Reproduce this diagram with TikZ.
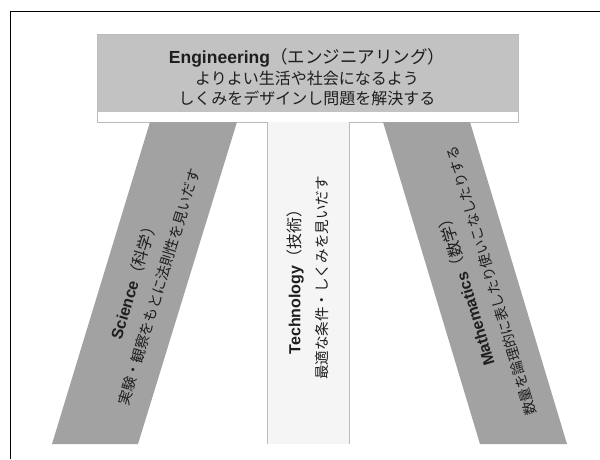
\documentclass[tikz,border=0pt]{standalone}
\usepackage{fontspec}
\setmainfont{Liberation Sans}
\newfontfamily\jp{Noto Sans CJK JP}
\definecolor{boxgray}{HTML}{C2C2C2}
\definecolor{bargray}{HTML}{A2A2A2}
\definecolor{edgegray}{HTML}{BBBBBB}
\definecolor{techfill}{HTML}{F5F5F5}
\definecolor{txt}{HTML}{1E1E1E}
\begin{document}
\begin{tikzpicture}[x=1pt,y=-1pt,
  lbl/.style={align=center,text=txt,inner sep=0pt},
  barfill/.style={fill=bargray},
]
\useasboundingbox (0,0) rectangle (600,459);
% frame
\draw[line width=1pt] (10,459) -- (10,11) -- (600,11);
% top box
\fill[boxgray] (97,34) rectangle (518,112);
\draw[edgegray,line width=0.8pt] (97,34) rectangle (518,122);
% bars
\path[barfill] (150,122) -- (237,122) -- (138,444) -- (52,444) -- cycle;
\path[barfill] (383,122) -- (470,122) -- (567,444) -- (480,444) -- cycle;
\fill[techfill] (267,122) rectangle (349,444);
\draw[edgegray,line width=0.8pt] (267,122) -- (267,444) (349,122) -- (349,444);
% texts
\node[lbl,font=\fontsize{16}{20}\selectfont] (eng) at (307,77)
  {{\fontsize{17.5}{22}\selectfont\bfseries Engineering\mdseries\jp（エンジニアリング）}\\[1pt]
   {\jp よりよい生活や社会になるよう}\\
   {\jp しくみをデザインし問題を解決する}};
\node[lbl,rotate=73,font=\fontsize{14.5}{26}\selectfont] (sci) at (146,283)
  {{\fontsize{16}{26}\selectfont\bfseries Science\mdseries\jp（科学）}\\
   {\jp 実験・観察をもとに法則性を見いだす}};
\node[lbl,rotate=90,font=\fontsize{14.5}{27}\selectfont] (tech) at (307.5,278)
  {{\fontsize{16}{27}\selectfont\bfseries Technology\mdseries\jp（技術）}\\
   {\jp 最適な条件・しくみを見いだす}};
\node[lbl,rotate=106.8,font=\fontsize{14}{26}\selectfont] (math) at (478,285)
  {{\fontsize{16}{26}\selectfont\bfseries Mathematics\mdseries\jp（数学）}\\
   {\jp 数量を論理的に表したり使いこなしたりする}};
\end{tikzpicture}
\end{document}
